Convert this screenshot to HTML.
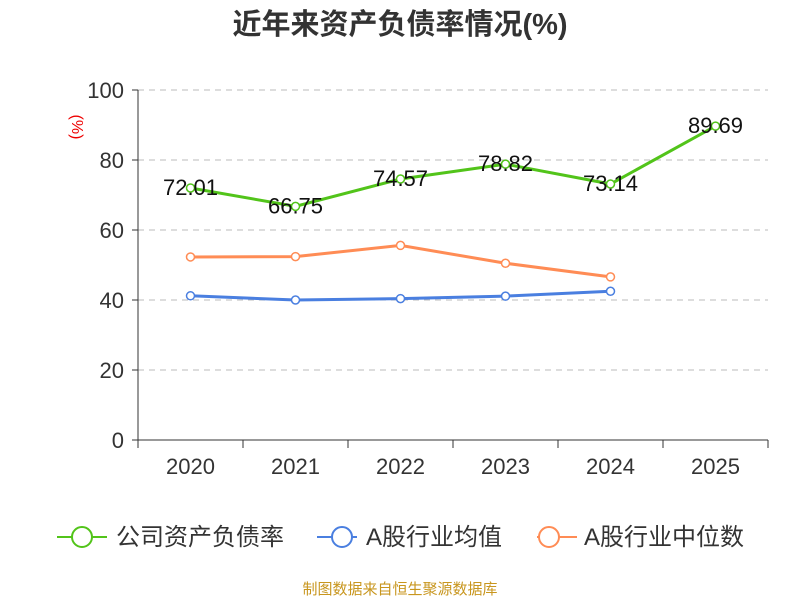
<!DOCTYPE html>
<html><head><meta charset="utf-8"><style>
body{margin:0;background:#fff;font-family:"Liberation Sans","Noto Sans CJK SC",sans-serif;}
svg text{font-family:"Liberation Sans","Noto Sans CJK SC",sans-serif;}
</style></head><body>
<svg id="chart" width="800" height="600">
<text x="400" y="34" text-anchor="middle" font-size="29" font-weight="bold" fill="#333">近年来资产负债率情况(%)</text>
<text x="76" y="127" font-size="16" fill="#e00" transform="rotate(90 76 127)" text-anchor="middle" dominant-baseline="middle">(%)</text>
<g id="grid"></g><g id="axes"></g><g id="series"></g>
<g>
<g><line x1="57" y1="537" x2="107" y2="537" stroke="#52c41a" stroke-width="2"/><circle cx="82" cy="537" r="10" fill="#fff" stroke="#52c41a" stroke-width="2"/><text x="116" y="545" font-size="24" fill="#333">公司资产负债率</text></g>
<g><line x1="317" y1="537" x2="357" y2="537" stroke="#4a7fe0" stroke-width="2"/><circle cx="342" cy="537" r="10" fill="#fff" stroke="#4a7fe0" stroke-width="2"/><text x="366" y="545" font-size="24" fill="#333">A股行业均值</text></g>
<g><line x1="537" y1="537" x2="577" y2="537" stroke="#ff8c55" stroke-width="2"/><circle cx="549" cy="537" r="10" fill="#fff" stroke="#ff8c55" stroke-width="2"/><text x="584" y="545" font-size="24" fill="#333">A股行业中位数</text></g>
</g>
<text x="400" y="594" text-anchor="middle" font-size="15" fill="#c8961e">制图数据来自恒生聚源数据库</text>
</svg>
<script>
const categories=["2020","2021","2022","2023","2024","2025"];
const companyValues=[72.01,66.75,74.57,78.82,73.14,89.69];
const industryAvg=[41.2,40.0,40.4,41.1,42.5];
const industryMedian=[52.3,52.4,55.6,50.5,46.6];
const yTicks=[0,20,40,60,80,100];
const NS="http://www.w3.org/2000/svg";
const x0=138,x1=768,y0=440,y1=90,band=(x1-x0)/categories.length;
const xs=i=>x0+band*(i+0.5), ys=v=>y0-(v/100)*(y0-y1);
function mk(t,a,p){const e=document.createElementNS(NS,t);for(const k in a)e.setAttribute(k,a[k]);p.appendChild(e);return e;}
const grid=document.getElementById('grid'),axes=document.getElementById('axes'),ser=document.getElementById('series');
yTicks.forEach(v=>{
 if(v>0){const g=mk('line',{x1:x0,x2:x1,y1:ys(v),y2:ys(v),stroke:'#bbb','stroke-dasharray':'6,5'},grid);
 
 }
 const tk=mk('line',{x1:x0-6,x2:x0,y1:ys(v),y2:ys(v),stroke:'#333'},axes);
 
 
 const t=mk('text',{x:x0-14,y:ys(v)+8,'text-anchor':'end','font-size':22,fill:'#333'},axes);t.textContent=v;
 
 
});
const ya=mk('line',{x1:x0,x2:x0,y1:y1,y2:y0,stroke:'#333'},axes);


const xa=mk('line',{x1:x0,x2:x1,y1:y0,y2:y0,stroke:'#333'},axes);


for(let i=0;i<=categories.length;i++){const l=mk('line',{x1:x0+band*i,x2:x0+band*i,y1:y0,y2:y0+8,stroke:'#333'},axes);
 
 }
categories.forEach((c,i)=>{const t=mk('text',{x:xs(i),y:474,'text-anchor':'middle','font-size':22,fill:'#333'},axes);t.textContent=c;
 
 });
function series(vals,color,name,labels){
 const g=mk('g',{},ser);
 
 
 const p=mk('polyline',{points:vals.map((v,i)=>xs(i)+','+ys(v)).join(' '),fill:'none',stroke:color,'stroke-width':3},g);
 
 
 vals.forEach((v,i)=>{const c=mk('circle',{cx:xs(i),cy:ys(v),r:4,fill:'#fff',stroke:color,'stroke-width':1.5},g);
  
  
  if(labels){const t=mk('text',{x:xs(i),y:ys(v)+7,'text-anchor':'middle','font-size':22,fill:'#111'},g);t.textContent=v.toFixed(2);
  
  }});
}
series(industryMedian,'#ff8c55','industry-median-series',false);
series(industryAvg,'#4a7fe0','industry-avg-series',false);
series(companyValues,'#52c41a','company-series',true);
</script>
</body></html>
